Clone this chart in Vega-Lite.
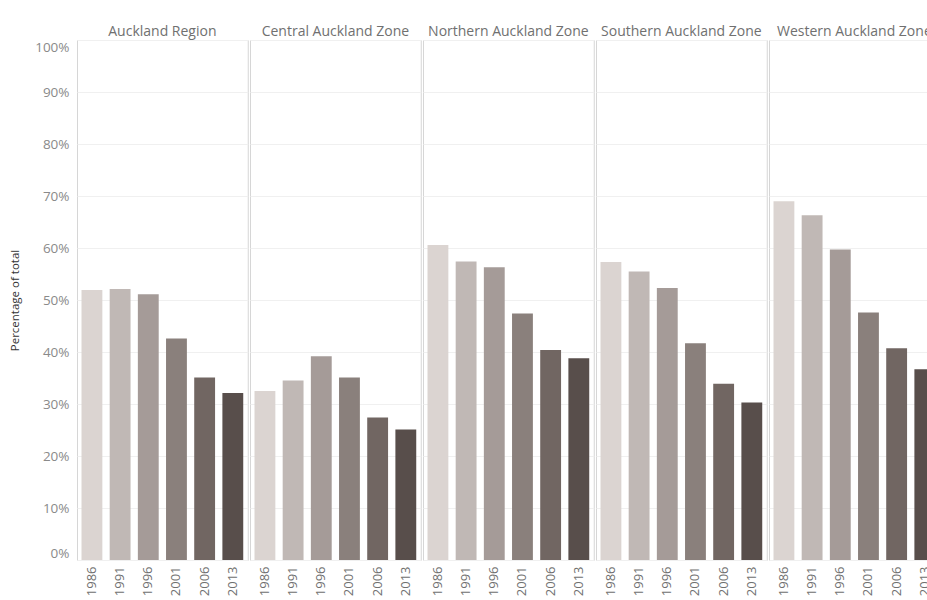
{
  "$schema": "https://vega.github.io/schema/vega-lite/v6.json",
  "background": "white",
  "padding": {"left": 9, "top": 25, "right": 0, "bottom": 0},
  "data": {"values": [
    {"zone": "Auckland Region", "year": "1986", "pct": 51.9},
    {"zone": "Auckland Region", "year": "1991", "pct": 52.1},
    {"zone": "Auckland Region", "year": "1996", "pct": 51.1},
    {"zone": "Auckland Region", "year": "2001", "pct": 42.6},
    {"zone": "Auckland Region", "year": "2006", "pct": 35.1},
    {"zone": "Auckland Region", "year": "2013", "pct": 32.1},
    {"zone": "Central Auckland Zone", "year": "1986", "pct": 32.5},
    {"zone": "Central Auckland Zone", "year": "1991", "pct": 34.5},
    {"zone": "Central Auckland Zone", "year": "1996", "pct": 39.2},
    {"zone": "Central Auckland Zone", "year": "2001", "pct": 35.1},
    {"zone": "Central Auckland Zone", "year": "2006", "pct": 27.4},
    {"zone": "Central Auckland Zone", "year": "2013", "pct": 25.1},
    {"zone": "Northern Auckland Zone", "year": "1986", "pct": 60.6},
    {"zone": "Northern Auckland Zone", "year": "1991", "pct": 57.4},
    {"zone": "Northern Auckland Zone", "year": "1996", "pct": 56.3},
    {"zone": "Northern Auckland Zone", "year": "2001", "pct": 47.4},
    {"zone": "Northern Auckland Zone", "year": "2006", "pct": 40.4},
    {"zone": "Northern Auckland Zone", "year": "2013", "pct": 38.8},
    {"zone": "Southern Auckland Zone", "year": "1986", "pct": 57.3},
    {"zone": "Southern Auckland Zone", "year": "1991", "pct": 55.5},
    {"zone": "Southern Auckland Zone", "year": "1996", "pct": 52.3},
    {"zone": "Southern Auckland Zone", "year": "2001", "pct": 41.7},
    {"zone": "Southern Auckland Zone", "year": "2006", "pct": 33.9},
    {"zone": "Southern Auckland Zone", "year": "2013", "pct": 30.3},
    {"zone": "Western Auckland Zone", "year": "1986", "pct": 69.0},
    {"zone": "Western Auckland Zone", "year": "1991", "pct": 66.3},
    {"zone": "Western Auckland Zone", "year": "1996", "pct": 59.7},
    {"zone": "Western Auckland Zone", "year": "2001", "pct": 47.6},
    {"zone": "Western Auckland Zone", "year": "2006", "pct": 40.7},
    {"zone": "Western Auckland Zone", "year": "2013", "pct": 36.7}
  ]},
  "facet": {
    "column": {
      "field": "zone", "type": "nominal", "title": null,
      "sort": ["Auckland Region", "Central Auckland Zone", "Northern Auckland Zone", "Southern Auckland Zone", "Western Auckland Zone"],
      "header": {"labelOrient": "top", "labelFont": "Open Sans", "labelFontSize": 14, "labelColor": "#707070", "labelPadding": 0}
    }
  },
  "spacing": 0,
  "spec": {
    "width": 170.75,
    "height": 520,
    "mark": {"type": "bar"},
    "encoding": {
      "x": {
        "field": "year", "type": "ordinal", "title": null,
        "scale": {"paddingInner": 0.26, "paddingOuter": 0.16},
        "axis": {"labelAngle": -90, "labelAlign": "right", "labelBaseline": "middle", "labelFont": "Open Sans", "labelFontSize": 13, "labelColor": "#707070", "labelPadding": 5, "ticks": false, "domain": false}
      },
      "y": {
        "field": "pct", "type": "quantitative", "title": "Percentage of total",
        "scale": {"domain": [0, 100]},
        "axis": {"values": [0, 10, 20, 30, 40, 50, 60, 70, 80, 90, 100], "labelExpr": "datum.value + '%'", "labelFlush": true, "labelFont": "Open Sans", "labelFontSize": 13.5, "labelColor": "#8a8a8a", "labelPadding": 7, "ticks": false, "domain": false, "gridColor": "#f0f0f0", "titleFont": "Open Sans", "titleFontSize": 11.5, "titleFontWeight": "normal", "titleColor": "#333333", "titlePadding": 14}
      },
      "color": {
        "field": "year", "type": "ordinal", "legend": null,
        "scale": {"domain": ["1986", "1991", "1996", "2001", "2006", "2013"], "range": ["#dbd4d1", "#c0b8b5", "#a59b98", "#8a807c", "#716662", "#584e4b"]}
      }
    }
  },
  "config": {"view": {"stroke": "#d6d6d6", "strokeWidth": 1}}
}
